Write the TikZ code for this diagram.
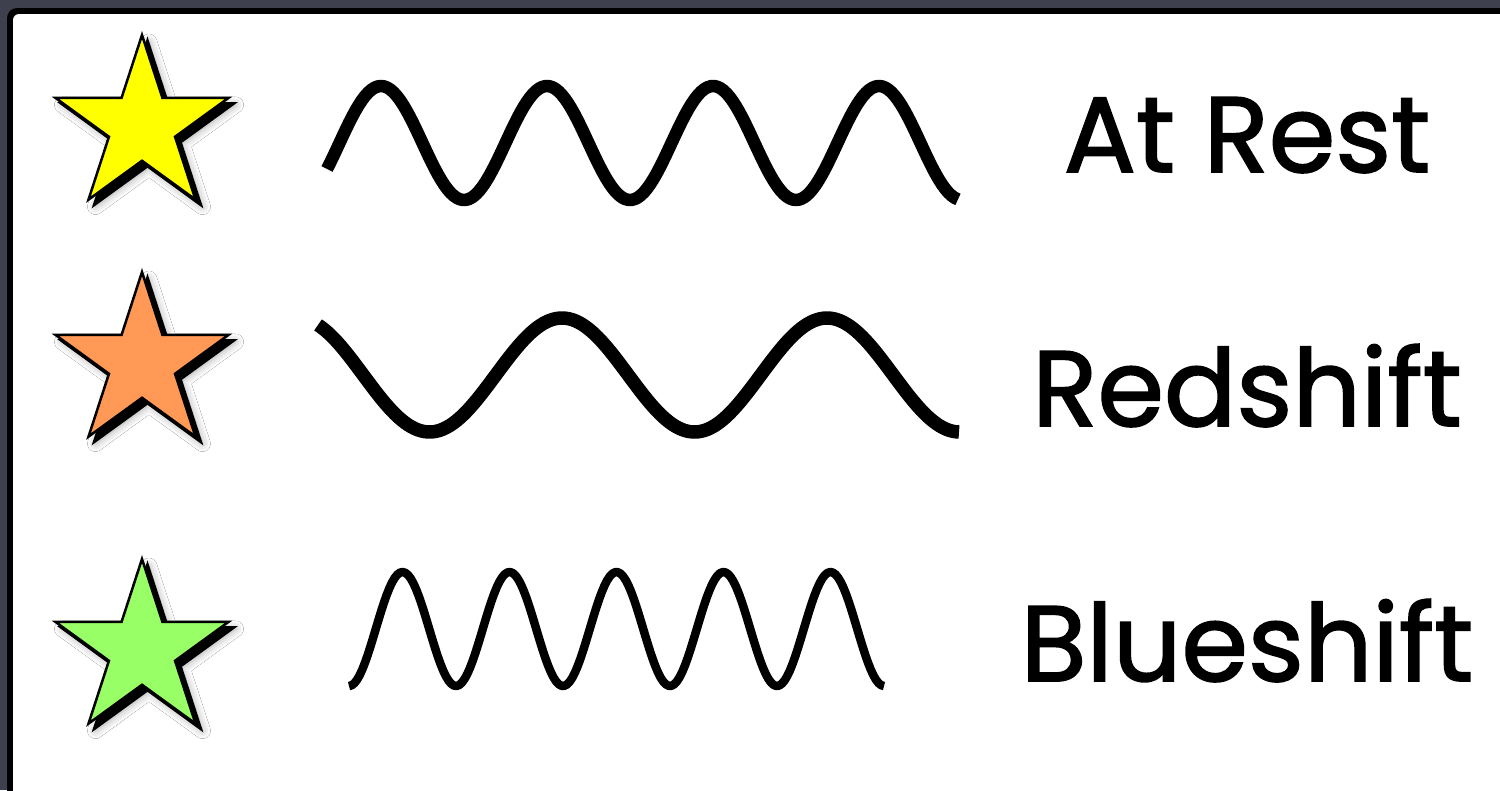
\documentclass[tikz,border=0pt]{standalone}
\usepackage{fontspec}
\newfontfamily\tagfont{Poppins}[FakeBold=1.6]
\usepackage{tikz}
\usetikzlibrary{shapes.geometric,shadows,shadows.blur}
\definecolor{panelframe}{HTML}{3E414D}
\definecolor{restyellow}{HTML}{FFFF00}
\definecolor{redorange}{HTML}{FF9955}
\definecolor{bluegreen}{HTML}{99FF66}
\tikzset{
  starnode/.style={star,star points=5,star point ratio=2.618,minimum size=18.2mm,
    inner sep=0pt,draw=black,line width=0.25mm,fill=#1,
    blur shadow={shadow xshift=0.7mm,shadow yshift=-0.7mm,shadow blur radius=0.8mm,shadow opacity=35},
    copy shadow={shadow xshift=0.55mm,shadow yshift=-0.55mm,fill=black,draw=black}},
  wave/.style={line width=#1,line join=round},
  tag/.style={font=\tagfont\fontsize{30.5}{36}\selectfont,anchor=base}
}
\begin{document}
\begin{tikzpicture}[x=0.1mm,y=-0.1mm]
  \useasboundingbox (0,0) rectangle (1500,790);
  \clip (0,0) rectangle (1500,790);
  \fill[panelframe] (0,0) rectangle (1500,790);
  \fill[black,rounded corners=1mm] (7,8) rectangle (1540,830);
  \fill[white,rounded corners=0.6mm] (13,14) rectangle (1540,830);
  \foreach \n/\c/\y/\t/\b in {rest/restyellow/126/At Rest/172,red/redorange/363/Redshift/426,blue/bluegreen/650/Blueshift/681}{
    \node[starnode=\c] (star-\n) at (142,\y) {};
    \node[tag] (tag-\n) at (1247,\b) {\t}; }
  \foreach \a/\e/\m/\p/\T/\w in {327/958/143/381/166/1.25,318/959/375/562/265/1.35,349/884/629/402.5/107/0.85}
    \draw[wave=\w mm] plot[domain=\a:\e,samples=200] (\x,{\m-57*cos((\x-\p)/\T*360)});
\end{tikzpicture}
\end{document}
